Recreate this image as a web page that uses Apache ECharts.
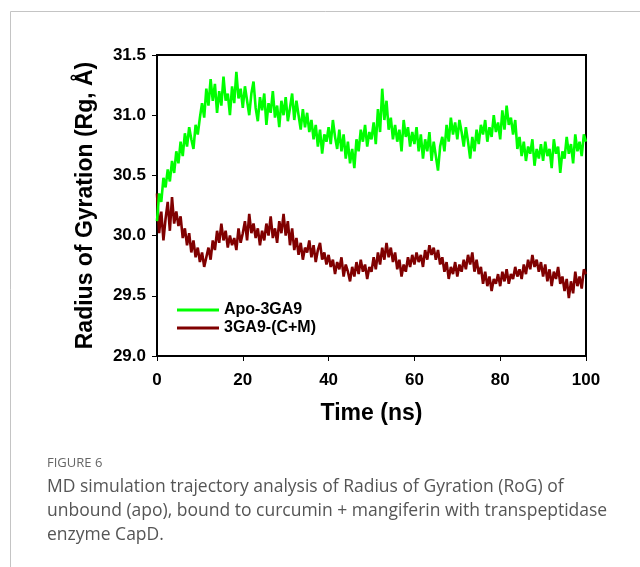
<!DOCTYPE html>
<html>
<head>
<meta charset="utf-8">
<script src="https://cdn.jsdelivr.net/npm/echarts@6/dist/echarts.min.js"></script>
<style>
  html, body { margin: 0; padding: 0; background: #fff; }
  #chart { width: 640px; height: 567px; }
</style>
</head>
<body>
<div id="chart"></div>
<script>
// sampling step of the trajectory (ns)
const timeStep = 0.5;
const xTicks = [0, 20, 40, 60, 80, 100];

// Apo-3GA9, Rg (Å) every 0.5 ns
const apo = [
  30.12, 30.35, 30.28, 30.48, 30.40, 30.55, 30.45, 30.62, 30.52, 30.70,
  30.60, 30.78, 30.66, 30.85, 30.74, 30.90, 30.80, 30.72, 30.92, 30.84,
  30.98, 31.10, 30.98, 31.22, 31.08, 31.30, 31.12, 31.26, 31.02, 31.20,
  31.08, 31.32, 31.12, 31.18, 31.00, 31.24, 31.10, 31.36, 31.14, 31.22,
  31.06, 31.24, 31.12, 31.00, 31.18, 31.28, 31.06, 30.95, 31.15, 31.04,
  31.18, 30.92, 31.10, 31.02, 31.20, 30.98, 31.08, 30.90, 31.12, 31.00,
  31.15, 30.95, 31.06, 31.18, 30.96, 31.12, 31.00, 30.88, 31.05, 30.90,
  31.02, 30.86, 30.96, 30.80, 30.92, 30.74, 30.88, 30.68, 30.84, 30.78,
  30.90, 30.76, 30.96, 30.82, 30.72, 30.88, 30.70, 30.84, 30.64, 30.78,
  30.60, 30.72, 30.56, 30.80, 30.70, 30.88, 30.78, 30.92, 30.74, 30.86,
  30.80, 30.94, 30.76, 31.05, 30.86, 31.22, 30.96, 31.12, 30.88, 30.98,
  30.80, 30.92, 30.78, 30.88, 30.70, 30.96, 30.82, 30.90, 30.74, 30.86,
  30.76, 30.90, 30.70, 30.84, 30.64, 30.80, 30.70, 30.86, 30.62, 30.78,
  30.66, 30.54, 30.74, 30.82, 30.70, 30.92, 30.78, 30.98, 30.84, 30.94,
  30.80, 30.96, 30.86, 30.74, 30.90, 30.78, 30.64, 30.82, 30.70, 30.88,
  30.76, 30.92, 30.84, 30.96, 30.78, 30.90, 30.82, 31.00, 30.86, 30.94,
  30.80, 31.04, 30.88, 31.08, 30.92, 30.98, 30.84, 30.96, 30.72, 30.82,
  30.66, 30.78, 30.62, 30.74, 30.68, 30.80, 30.58, 30.72, 30.64, 30.76,
  30.62, 30.78, 30.66, 30.72, 30.56, 30.80, 30.68, 30.74, 30.52, 30.70,
  30.64, 30.82, 30.68, 30.76, 30.60, 30.84, 30.70, 30.78, 30.66, 30.84,
  30.78
];

// 3GA9-(C+M), Rg (Å) every 0.5 ns
const complex = [
  30.35, 30.02, 30.20, 29.96, 30.14, 30.28, 30.04, 30.32, 30.10, 30.20,
  30.08, 30.16, 29.98, 30.06, 29.92, 30.02, 29.86, 29.96, 29.82, 29.90,
  29.78, 29.86, 29.74, 29.82, 29.90, 29.80, 29.96, 29.88, 30.04, 29.94,
  30.10, 29.96, 30.04, 29.90, 30.00, 29.92, 29.98, 29.88, 30.06, 29.94,
  30.02, 30.12, 29.96, 30.18, 30.02, 30.10, 29.98, 30.06, 29.92, 30.04,
  29.96, 30.10, 30.00, 30.16, 29.98, 30.06, 29.94, 30.12, 30.02, 30.18,
  30.00, 30.12, 29.92, 30.06, 29.88, 29.98, 29.84, 29.94, 29.80, 29.90,
  29.86, 29.96, 29.82, 29.92, 29.78, 29.88, 29.94, 29.80, 29.86, 29.76,
  29.84, 29.74, 29.80, 29.68, 29.78, 29.72, 29.82, 29.66, 29.76, 29.70,
  29.62, 29.74, 29.66, 29.78, 29.68, 29.80, 29.70, 29.76, 29.64, 29.74,
  29.70, 29.82, 29.72, 29.86, 29.76, 29.90, 29.80, 29.94, 29.82, 29.90,
  29.78, 29.86, 29.72, 29.80, 29.66, 29.76, 29.70, 29.82, 29.74, 29.84,
  29.76, 29.86, 29.78, 29.84, 29.74, 29.88, 29.80, 29.92, 29.84, 29.90,
  29.80, 29.88, 29.76, 29.82, 29.70, 29.78, 29.64, 29.74, 29.68, 29.78,
  29.66, 29.76, 29.70, 29.80, 29.72, 29.84, 29.76, 29.86, 29.70, 29.80,
  29.68, 29.74, 29.60, 29.70, 29.58, 29.66, 29.54, 29.64, 29.60, 29.68,
  29.58, 29.70, 29.62, 29.72, 29.60, 29.68, 29.64, 29.74, 29.66, 29.72,
  29.64, 29.76, 29.68, 29.80, 29.72, 29.84, 29.74, 29.80, 29.70, 29.78,
  29.66, 29.76, 29.62, 29.72, 29.58, 29.70, 29.64, 29.74, 29.60, 29.66,
  29.54, 29.64, 29.48, 29.62, 29.52, 29.70, 29.58, 29.66, 29.56, 29.72,
  29.68
];

const seriesNames = ['Apo-3GA9', '3GA9-(C+M)'];
const captionLabel = 'FIGURE 6';
const captionLines = [
  'MD simulation trajectory analysis of Radius of Gyration (RoG) of',
  'unbound (apo), bound to curcumin + mangiferin with transpeptidase',
  'enzyme CapD.'
];

function toPairs(vals) {
  return vals.map((v, i) => [i * timeStep, v]);
}

const chart = echarts.init(document.getElementById('chart'), null, { renderer: 'canvas' });
const font = 'Liberation Sans, Arial, sans-serif';

const captionGraphics = [
  // figure frame
  { type: 'line', shape: { x1: 10.5, y1: 11.5, x2: 640, y2: 11.5 }, style: { stroke: '#c4c4c4', lineWidth: 1 } },
  { type: 'line', shape: { x1: 10.5, y1: 11.5, x2: 10.5, y2: 567 }, style: { stroke: '#c4c4c4', lineWidth: 1 } },
  {
    type: 'text', left: 47, top: 457,
    style: { text: captionLabel, font: '13px "Open Sans", sans-serif', fill: '#666' }
  }
];
captionLines.forEach((t, i) => {
  captionGraphics.push({
    type: 'text', left: 47, top: 478 + i * 24,
    style: { text: t, font: '17.5px "Open Sans", sans-serif', fill: '#555' }
  });
});

chart.setOption({
  animation: false,
  backgroundColor: '#fff',
  grid: {
    left: 157, right: 54, top: 55, bottom: 211,
    show: true, borderColor: '#000', borderWidth: 2, backgroundColor: 'transparent'
  },
  legend: {
    data: seriesNames,
    orient: 'vertical',
    left: 172, top: 297,
    itemWidth: 42, itemHeight: 3, itemGap: 2,
    icon: 'rect',
    textStyle: { fontFamily: font, fontWeight: 'bold', fontSize: 16, color: '#000', padding: [0, 0, 0, 0] }
  },
  xAxis: {
    type: 'value',
    min: 0, max: 100, interval: 20,
    name: 'Time (ns)',
    nameLocation: 'middle',
    nameGap: 46,
    nameTextStyle: { fontFamily: font, fontWeight: 'bold', fontSize: 23, color: '#000' },
    axisLine: { show: true, lineStyle: { color: '#000', width: 2 } },
    axisTick: { show: true, length: 5, lineStyle: { color: '#000', width: 1 } },
    axisLabel: {
      margin: 16, fontFamily: font, fontWeight: 'bold', fontSize: 17, color: '#000',
      formatter: v => xTicks.includes(v) ? String(v) : ''
    },
    splitLine: { show: false }
  },
  yAxis: {
    type: 'value',
    min: 29, max: 31.5, interval: 0.5,
    name: 'Radius of Gyration (Rg, Å)',
    nameLocation: 'middle',
    nameGap: 60,
    nameTextStyle: { fontFamily: font, fontWeight: 'bold', fontSize: 23, color: '#000' },
    axisLine: { show: true, lineStyle: { color: '#000', width: 2 } },
    axisTick: { show: true, length: 5, lineStyle: { color: '#000', width: 1 } },
    axisLabel: {
      margin: 11, fontFamily: font, fontWeight: 'bold', fontSize: 17, color: '#000',
      formatter: v => v.toFixed(1)
    },
    splitLine: { show: false }
  },
  series: [
    {
      name: seriesNames[0], type: 'line', data: toPairs(apo),
      showSymbol: false, symbol: 'none', z: 3,
      lineStyle: { color: '#00ff00', width: 2.6 }, itemStyle: { color: '#00ff00' }
    },
    {
      name: seriesNames[1], type: 'line', data: toPairs(complex),
      showSymbol: false, symbol: 'none', z: 2,
      lineStyle: { color: '#800000', width: 2.6 }, itemStyle: { color: '#800000' }
    }
  ],
  graphic: captionGraphics
});
</script>
</body>
</html>
